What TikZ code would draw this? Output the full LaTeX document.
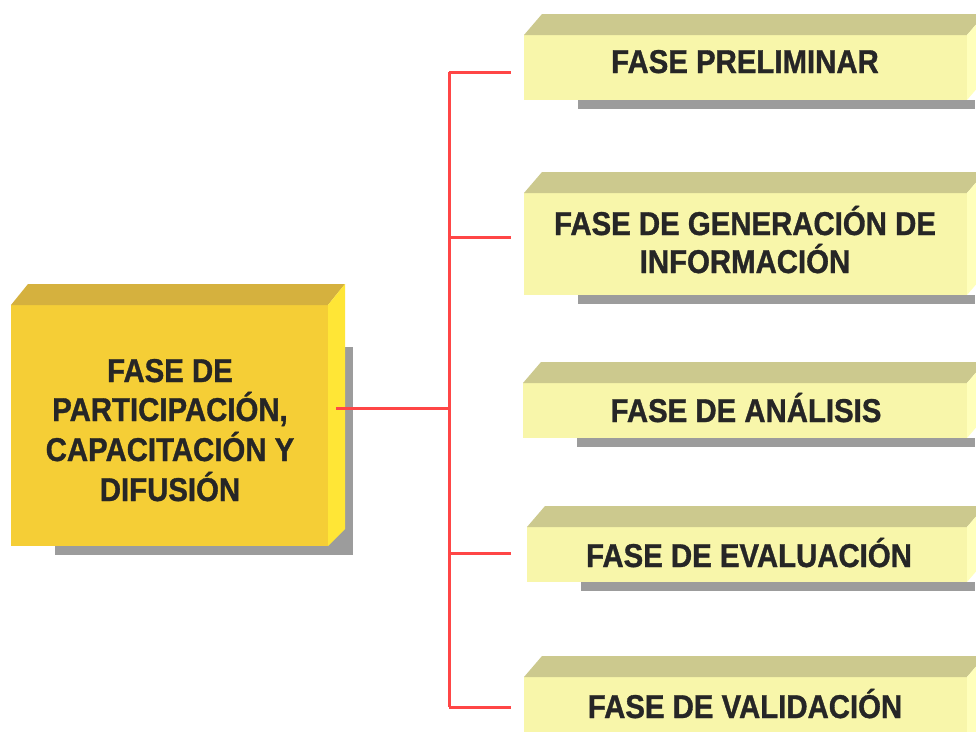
\documentclass[tikz,border=0pt]{standalone}
\usepackage{fontspec}
\newfontfamily\boxfont[FakeStretch=0.89,FakeBold=1]{Liberation Sans}
\definecolor{fronty}{HTML}{F8F6AA}
\definecolor{topy}{HTML}{CCC98E}
\definecolor{sidey}{HTML}{FFFFBB}
\definecolor{frontg}{HTML}{F5CE36}
\definecolor{topg}{HTML}{D5B13E}
\definecolor{sideg}{HTML}{FFE636}
\definecolor{shadowgray}{HTML}{9C9C9C}
\definecolor{linered}{HTML}{FF4646}
\definecolor{textdark}{HTML}{262626}
\tikzset{
  txt/.style={font=\boxfont\bfseries\fontsize{33}{38}\selectfont, text=textdark, inner sep=0pt, anchor=base},
  conn/.style={draw=linered, line width=3pt},
  hidden/.style={inner sep=0pt, draw=none}
}
% name, x1, x2, yfront-top, ybottom
\newcommand\phasebox[5]{%
  \fill[shadowgray] (#2+54,#5) rectangle (#3+8,#5+9);
  \fill[fronty] (#2,#4) rectangle (#3,#5);
  \fill[topy] (#2,#4) -- (#2+18,#4-21) -- (#3+18,#4-21) -- (#3,#4) -- cycle;
  \fill[sidey] (#3,#4) -- (#3+18,#4-21) -- (#3+18,#5-21) -- (#3,#5) -- cycle;
  \node[hidden, minimum width=#3-#2, minimum height=#5-#4] (#1) at ({(#2+#3)/2},{(#4+#5)/2}) {};
}
\begin{document}
\begin{tikzpicture}[x=1pt,y=-1pt]
\useasboundingbox (0,0) rectangle (976,731);
\fill[white] (0,0) rectangle (976,731);
\clip (0,0) rectangle (976,731);

% big box
\fill[shadowgray] (55,347) rectangle (353,555);
\fill[frontg] (11,305) rectangle (328,546);
\fill[topg] (11,305) -- (28,284) -- (345,284) -- (328,305) -- cycle;
\fill[sideg] (328,305) -- (345,284) -- (345,529) -- (328,546) -- cycle;
\node[hidden, minimum width=317, minimum height=241] (big) at (169.5,425.5) {};

% phase boxes
\phasebox{b1}{524}{967}{35}{100}
\phasebox{b2}{524}{967}{193}{295}
\phasebox{b3}{523}{967}{383}{438}
\phasebox{b4}{527}{967}{527}{582}
\phasebox{b5}{524}{967}{677}{760}

% texts
\node[txt] (g1) at (170,382) {FASE DE};
\node[txt] (g2) at (170,421) {PARTICIPACIÓN,};
\node[txt] (g3) at (170,461) {CAPACITACIÓN Y};
\node[txt] (g4) at (170,501) {DIFUSIÓN};

\node[txt] (t1) at (745,73) {FASE PRELIMINAR};
\node[txt] (t2a) at (745,235) {FASE DE GENERACIÓN DE};
\node[txt] (t2b) at (745,273) {INFORMACIÓN};
\node[txt] (t3) at (746,422) {FASE DE ANÁLISIS};
\node[txt] (t4) at (749,567) {FASE DE EVALUACIÓN};
\node[txt] (t5) at (745,718) {FASE DE VALIDACIÓN};

% connectors
\coordinate (bigout) at (336,408);
\coordinate (tmid) at (449,408);
\coordinate (ttop) at (449,72);
\coordinate (tb2) at (449,237);
\coordinate (tb4) at (449,553);
\coordinate (tbot) at (449,707);
\coordinate (e1) at (511,72);
\coordinate (e2) at (511,237);
\coordinate (e4) at (511,553);
\coordinate (e5) at (511,707);

\draw[conn] (ttop) -- (tbot);
\draw[conn] (bigout) -- (tmid);
\draw[conn] (ttop) -- (e1);
\draw[conn] (tb2) -- (e2);
\draw[conn] (tb4) -- (e4);
\draw[conn] (tbot) -- (e5);
\end{tikzpicture}
\end{document}
